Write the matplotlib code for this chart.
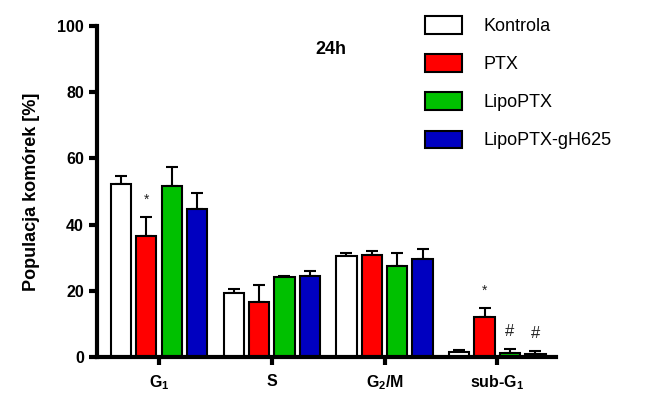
import numpy as np
import matplotlib
matplotlib.use("Agg")
import matplotlib.pyplot as plt

plt.rcParams["font.family"] = ["Liberation Sans", "DejaVu Sans"]
plt.rcParams["mathtext.fontset"] = "custom"
plt.rcParams["mathtext.rm"] = "Liberation Sans"

# dane (24h)
phases = [r"G$_{\mathregular{1}}$", "S", r"G$_{\mathregular{2}}$/M", r"sub-G$_{\mathregular{1}}$"]
groups = ["Kontrola", "PTX", "LipoPTX", "LipoPTX-gH625"]
kontrola = [52.3, 19.4, 30.5, 1.4]
ptx = [36.4, 16.7, 30.7, 12.2]
lipo_ptx = [51.8, 24.1, 27.5, 1.1]
lipo_gh = [44.7, 24.5, 29.5, 0.8]
err_kontrola = [2.4, 1.2, 0.8, 0.8]
err_ptx = [5.9, 5.0, 1.3, 2.7]
err_lipo = [5.7, 0.5, 3.8, 1.4]
err_gh = [4.9, 1.6, 3.1, 1.1]
# znaczniki istotnosci: (faza, grupa, symbol)
marks = [(0, 1, "*"), (3, 1, "*"), (3, 2, "#"), (3, 3, "#")]

values = [kontrola, ptx, lipo_ptx, lipo_gh]
errors = [err_kontrola, err_ptx, err_lipo, err_gh]
colors = ["white", "#ff0000", "#00c000", "#0000c0"]

fig = plt.figure(figsize=(6.72, 3.94), dpi=100)
ax = fig.add_axes([0.1443, 0.094, 0.683, 0.84])

x = np.arange(len(phases))
step, width = 0.225, 0.18
for i, (vals, errs, col, name) in enumerate(zip(values, errors, colors, groups)):
    pos = x + (i - 1.5) * step
    ax.bar(pos, vals, width, color=col, edgecolor="black", linewidth=1.5, label=name, zorder=2)
    ax.errorbar(pos, vals, yerr=[np.zeros(len(errs)), errs], fmt="none", ecolor="black",
                elinewidth=1.5, capsize=4, capthick=1.5, zorder=1)

for ph, g, sym in marks:
    pos = x[ph] + (g - 1.5) * step
    top = values[g][ph] + errors[g][ph]
    ax.text(pos, top + 3, sym, ha="center", va="bottom", fontsize=10 if sym == "*" else 12,
            color="#222222")

ax.set_xlim(-0.55, 3.52)
ax.set_ylim(0, 100)
ax.set_yticks([0, 20, 40, 60, 80, 100])
ax.set_xticks(x)
ax.set_xticklabels(phases)
for lab in ax.get_xticklabels() + ax.get_yticklabels():
    lab.set_fontweight("bold")
    lab.set_fontsize(11.5)
ax.tick_params(axis="both", width=3, length=6, direction="out")
ax.tick_params(axis="x", pad=6)
for s in ["top", "right"]:
    ax.spines[s].set_visible(False)
for s in ["left", "bottom"]:
    ax.spines[s].set_linewidth(3)

ax.set_ylabel("Populacja komórek [%]", fontsize=13, fontweight="bold", labelpad=12)
ax.text(0.51, 0.955, "24h", transform=ax.transAxes, ha="center", va="top",
        fontsize=13, fontweight="bold")

fig.legend(loc="upper left", bbox_to_anchor=(0.609, 1.0), frameon=False, fontsize=13,
           handlelength=2.0, handleheight=1.1, labelspacing=1.07, handletextpad=1.2)

fig.savefig("out.png", dpi=100)
